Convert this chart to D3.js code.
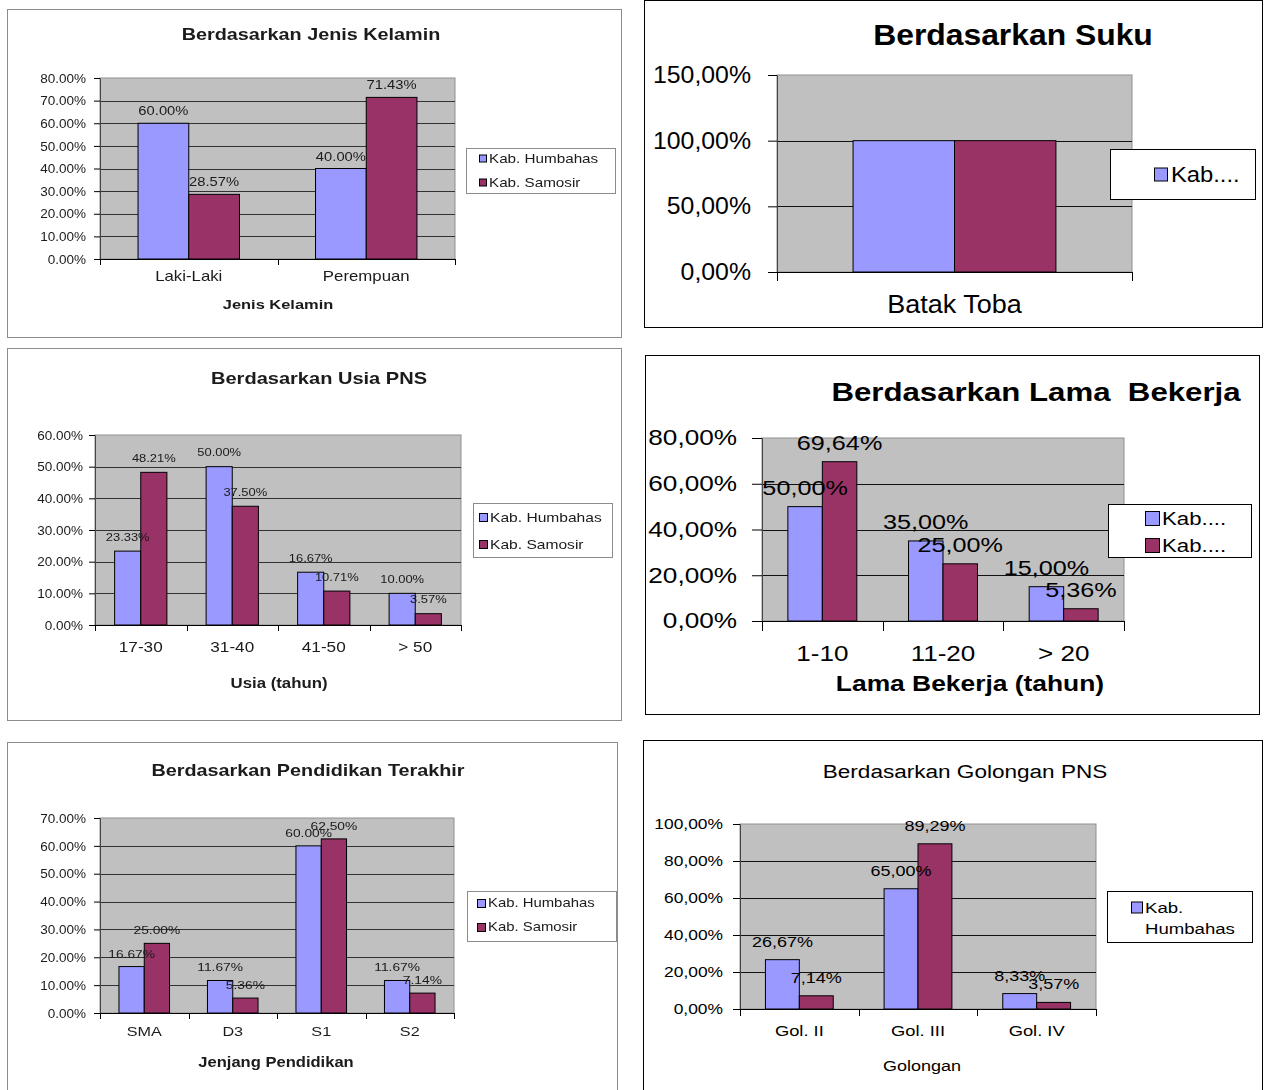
<!DOCTYPE html>
<html>
<head>
<meta charset="utf-8">
<script src="https://cdn.jsdelivr.net/npm/d3@7"></script>
<style>
  body { margin: 0; background: #fff; }
  svg { display: block; }
  text { font-family: "Liberation Sans", Arial, Helvetica, sans-serif; white-space: pre; }
</style>
</head>
<body>
<svg id="chart" width="1269" height="1090"></svg>
<script>
// ---- data -------------------------------------------------------------
const seriesNames = ["Kab. Humbahas", "Kab. Samosir"];

const genderCategories = ["Laki-Laki", "Perempuan"];
const genderHumbahas = [60.00, 40.00];
const genderSamosir = [28.57, 71.43];
const genderTicks = [0, 10, 20, 30, 40, 50, 60, 70, 80];

const sukuCategories = ["Batak Toba"];
const sukuHumbahas = [100.00];
const sukuSamosir = [100.00];
const sukuTicks = [0, 50, 100, 150];

const usiaCategories = ["17-30", "31-40", "41-50", "> 50"];
const usiaHumbahas = [23.33, 50.00, 16.67, 10.00];
const usiaSamosir = [48.21, 37.50, 10.71, 3.57];
const usiaTicks = [0, 10, 20, 30, 40, 50, 60];

const lamaCategories = ["1-10", "11-20", "> 20"];
const lamaHumbahas = [50.00, 35.00, 15.00];
const lamaSamosir = [69.64, 25.00, 5.36];
const lamaTicks = [0, 20, 40, 60, 80];

const pendidikanCategories = ["SMA", "D3", "S1", "S2"];
const pendidikanHumbahas = [16.67, 11.67, 60.00, 11.67];
const pendidikanSamosir = [25.00, 5.36, 62.50, 7.14];
const pendidikanTicks = [0, 10, 20, 30, 40, 50, 60, 70];

const golonganCategories = ["Gol. II", "Gol. III", "Gol. IV"];
const golonganHumbahas = [26.67, 65.00, 8.33];
const golonganSamosir = [7.14, 89.29, 3.57];
const golonganTicks = [0, 20, 40, 60, 80, 100];

// ---- styling ----------------------------------------------------------
const BLUE = "#9999ff", PLUM = "#993366", PLOT_BG = "#c0c0c0";
const seriesColors = [BLUE, PLUM];

const svg = d3.select("#chart");
svg.append("defs").append("filter").attr("id", "soft")
  .append("feGaussianBlur").attr("stdDeviation", 0.4);

const pct = sep => v => v.toFixed(2).replace(".", sep) + "%";
const shortName = name => name.split(" ")[0] + "...";

// text drawn with a horizontal stretch, anchored at (x, y)
function stretched(g, x, y, str, size, sx, opts = {}) {
  return g.append("text")
    .attr("transform", `translate(${x},${y}) scale(${sx},1)`)
    .attr("text-anchor", opts.anchor || "middle")
    .attr("font-size", size)
    .attr("font-weight", opts.weight || "normal")
    .attr("fill", opts.fill || "#000")
    .text(str);
}

function drawPanel(p) {
  const g = svg.append("g");
  if (p.soft) g.attr("filter", "url(#soft)");
  const [fx0, fy0, fx1, fy1] = p.frame;
  g.append("rect")
    .attr("x", fx0 + 0.5).attr("y", fy0 + 0.5)
    .attr("width", fx1 - fx0).attr("height", fy1 - fy0)
    .attr("fill", "#fff").attr("stroke", p.frameColor);

  const { l, r, t, b } = p.plot;
  const fmt = pct(p.sep);
  const yMax = d3.max(p.ticks);
  const x0 = d3.scaleBand().domain(p.categories).range([l, r]);
  const y = d3.scaleLinear().domain([0, yMax]).range([b, t]);
  const bw = x0.bandwidth();
  const groupW = bw * 4 / 7;
  const x1 = d3.scaleBand().domain(d3.range(p.series.length))
    .range([(bw - groupW) / 2, (bw + groupW) / 2]);

  // plot area and gridlines
  g.append("rect").attr("x", l).attr("y", t)
    .attr("width", r - l).attr("height", b - t)
    .attr("fill", PLOT_BG).attr("stroke", "#8f8f8f");
  g.append("g").selectAll("line")
    .data(p.ticks.filter(v => v > 0 && v < yMax))
    .join("line")
    .attr("x1", l).attr("x2", r)
    .attr("y1", d => Math.round(y(d)) + 0.5).attr("y2", d => Math.round(y(d)) + 0.5)
    .attr("stroke", p.gridColor);

  // bars
  const rows = p.categories.flatMap((c, i) =>
    p.series.map((vals, s) => ({ c, s, v: vals[i] })));
  g.append("g").selectAll("rect").data(rows).join("rect")
    .attr("x", d => x0(d.c) + x1(d.s))
    .attr("y", d => y(d.v))
    .attr("width", x1.bandwidth())
    .attr("height", d => y(0) - y(d.v))
    .attr("fill", d => seriesColors[d.s])
    .attr("stroke", "#000").attr("stroke-width", 1);

  // value labels
  if (p.values) {
    const vl = g.append("g");
    rows.forEach(d => {
      stretched(vl, x0(d.c) + x1(d.s) + x1.bandwidth() / 2, y(d.v) - p.values.gap,
        fmt(d.v), p.values.size, p.sx, { fill: p.textColor });
    });
  }

  // y axis
  const ya = g.append("g").attr("transform", `translate(${l},0)`)
    .call(d3.axisLeft(y).tickValues(p.ticks).tickFormat(fmt)
      .tickSize(p.tickLen).tickPadding(p.tickPad).tickSizeOuter(0));
  ya.attr("font-family", null).attr("font-size", p.fs.tick).attr("color", "#000");
  ya.select(".domain").attr("stroke", "#444");
  ya.selectAll(".tick text")
    .attr("x", null)
    .attr("fill", p.textColor)
    .attr("transform", `translate(${-(p.tickLen + p.tickPad)},0) scale(${p.tickSx || p.sx},1)`);

  // x axis: baseline, category dividers and labels
  const xa = g.append("g").attr("transform", `translate(0,${b})`)
    .call(d3.axisBottom(x0).tickSize(0).tickSizeOuter(0));
  xa.attr("font-family", null).attr("font-size", p.fs.cat).attr("color", "#000");
  xa.select(".domain").attr("stroke", "#000");
  xa.selectAll(".tick text")
    .attr("y", null).attr("dy", null)
    .attr("fill", p.textColor)
    .attr("transform", `translate(0,${p.catY - b}) scale(${p.sx},1)`);
  g.append("g").selectAll("line")
    .data(d3.range(p.categories.length + 1))
    .join("line")
    .attr("x1", i => Math.round(l + i * x0.step()) + 0.5)
    .attr("x2", i => Math.round(l + i * x0.step()) + 0.5)
    .attr("y1", b).attr("y2", b + p.tickLen)
    .attr("stroke", "#000");

  // titles
  stretched(g, p.title.x, p.title.y, p.title.text, p.title.size, p.sx,
    { weight: p.title.weight, fill: p.textColor });
  if (p.xTitle) {
    stretched(g, p.xTitle.x, p.xTitle.y, p.xTitle.text, p.xTitle.size, p.sx,
      { weight: p.xTitle.weight, fill: p.textColor });
  }

  // legend
  const L = p.legend;
  const lg = g.append("g");
  lg.append("rect")
    .attr("x", L.box[0] + 0.5).attr("y", L.box[1] + 0.5)
    .attr("width", L.box[2] - L.box[0]).attr("height", L.box[3] - L.box[1])
    .attr("fill", "#fff").attr("stroke", p.legendStroke);
  L.items.forEach(item => {
    lg.append("rect")
      .attr("x", L.swatchX + 0.5).attr("y", item.y[0] - L.swatch / 2 + 0.5)
      .attr("width", L.swatch).attr("height", L.swatch)
      .attr("fill", seriesColors[item.series]).attr("stroke", "#000");
    item.lines.forEach((line, k) => {
      stretched(lg, L.textX, item.y[k] + L.size * 0.36, line, L.size, p.sx,
        { anchor: "start", fill: p.textColor });
    });
  });
}

// ---- panels -----------------------------------------------------------
const panels = [
  {
    categories: genderCategories, series: [genderHumbahas, genderSamosir], ticks: genderTicks,
    frame: [7, 9, 621, 337], frameColor: "#8c8c8c", soft: true,
    plot: { l: 100, r: 455, t: 78, b: 259 }, sep: ".", sx: 1.2, tickSx: 1.04,
    gridColor: "#333", textColor: "#1a1a1a",
    fs: { tick: 13, cat: 14 }, tickLen: 6, tickPad: 8, catY: 281,
    title: { text: "Berdasarkan Jenis Kelamin", x: 311, y: 40, size: 16.5, weight: "bold" },
    xTitle: { text: "Jenis Kelamin", x: 278, y: 309, size: 13.7, weight: "bold" },
    values: { size: 12.3, gap: 8 },
    legendStroke: "#8c8c8c",
    legend: { box: [466, 148, 615, 193], swatch: 7, swatchX: 479, textX: 489, size: 12.7,
      items: [{ series: 0, lines: [seriesNames[0]], y: [158] },
              { series: 1, lines: [seriesNames[1]], y: [182] }] }
  },
  {
    categories: sukuCategories, series: [sukuHumbahas, sukuSamosir], ticks: sukuTicks,
    frame: [644, 0, 1262, 327], frameColor: "#000", soft: false,
    plot: { l: 777, r: 1132, t: 75, b: 272 }, sep: ",", sx: 1.08,
    gridColor: "#111", textColor: "#000",
    fs: { tick: 23, cat: 25 }, tickLen: 9, tickPad: 17, catY: 313,
    title: { text: "Berdasarkan Suku", x: 1013, y: 45, size: 29.5, weight: "bold" },
    values: null,
    legendStroke: "#000",
    legend: { box: [1110, 149, 1255, 199], swatch: 13, swatchX: 1154, textX: 1171, size: 22,
      items: [{ series: 0, lines: [shortName(seriesNames[0])], y: [174] }] }
  },
  {
    categories: usiaCategories, series: [usiaHumbahas, usiaSamosir], ticks: usiaTicks,
    frame: [7, 348, 621, 720], frameColor: "#8c8c8c", soft: true,
    plot: { l: 95, r: 461, t: 435, b: 625 }, sep: ".", sx: 1.2, tickSx: 1.04,
    gridColor: "#333", textColor: "#1a1a1a",
    fs: { tick: 13, cat: 14.3 }, tickLen: 6, tickPad: 6, catY: 652,
    title: { text: "Berdasarkan Usia PNS", x: 319, y: 384, size: 16.7, weight: "bold" },
    xTitle: { text: "Usia (tahun)", x: 279, y: 688, size: 14, weight: "bold" },
    values: { size: 10.8, gap: 10.5 },
    legendStroke: "#8c8c8c",
    legend: { box: [473, 503, 612, 557], swatch: 8, swatchX: 479, textX: 490, size: 13,
      items: [{ series: 0, lines: [seriesNames[0]], y: [517] },
              { series: 1, lines: [seriesNames[1]], y: [544] }] }
  },
  {
    categories: lamaCategories, series: [lamaHumbahas, lamaSamosir], ticks: lamaTicks,
    frame: [645, 355, 1259, 714], frameColor: "#000", soft: false,
    plot: { l: 762, r: 1124, t: 438, b: 621 }, sep: ",", sx: 1.2,
    gridColor: "#111", textColor: "#000",
    fs: { tick: 21.8, cat: 21.7 }, tickLen: 10, tickPad: 15, catY: 661,
    title: { text: "Berdasarkan Lama  Bekerja", x: 1036, y: 401, size: 26, weight: "bold" },
    xTitle: { text: "Lama Bekerja (tahun)", x: 970, y: 691, size: 22, weight: "bold" },
    values: { size: 21, gap: 12 },
    legendStroke: "#000",
    legend: { box: [1108, 504, 1251, 557], swatch: 14, swatchX: 1145, textX: 1162, size: 18.5,
      items: [{ series: 0, lines: [shortName(seriesNames[0])], y: [518] },
              { series: 1, lines: [shortName(seriesNames[1])], y: [545] }] }
  },
  {
    categories: pendidikanCategories, series: [pendidikanHumbahas, pendidikanSamosir], ticks: pendidikanTicks,
    frame: [7, 742, 617, 1096], frameColor: "#8c8c8c", soft: true,
    plot: { l: 100, r: 454, t: 818, b: 1013 }, sep: ".", sx: 1.2, tickSx: 1.04,
    gridColor: "#333", textColor: "#1a1a1a",
    fs: { tick: 13, cat: 13.5 }, tickLen: 6, tickPad: 8, catY: 1036,
    title: { text: "Berdasarkan Pendidikan Terakhir", x: 308, y: 776, size: 16.5, weight: "bold" },
    xTitle: { text: "Jenjang Pendidikan", x: 276, y: 1067, size: 13.8, weight: "bold" },
    values: { size: 11.5, gap: 9 },
    legendStroke: "#8c8c8c",
    legend: { box: [467, 891, 616, 941], swatch: 8, swatchX: 477, textX: 488, size: 12.4,
      items: [{ series: 0, lines: [seriesNames[0]], y: [903] },
              { series: 1, lines: [seriesNames[1]], y: [927] }] }
  },
  {
    categories: golonganCategories, series: [golonganHumbahas, golonganSamosir], ticks: golonganTicks,
    frame: [643, 740, 1262, 1096], frameColor: "#000", soft: false,
    plot: { l: 740, r: 1096, t: 824, b: 1009 }, sep: ",", sx: 1.2,
    gridColor: "#111", textColor: "#000",
    fs: { tick: 14.5, cat: 15.3 }, tickLen: 7, tickPad: 10, catY: 1036,
    title: { text: "Berdasarkan Golongan PNS", x: 965, y: 778, size: 18.8, weight: "normal" },
    xTitle: { text: "Golongan", x: 922, y: 1071, size: 15, weight: "normal" },
    values: { size: 15, gap: 13 },
    legendStroke: "#000",
    legend: { box: [1107, 891, 1252, 942], swatch: 11, swatchX: 1131, textX: 1145, size: 15.5,
      items: [{ series: 0, lines: seriesNames[0].split(" "), y: [907, 928] }] }
  }
];

panels.forEach(drawPanel);
</script>
</body>
</html>
